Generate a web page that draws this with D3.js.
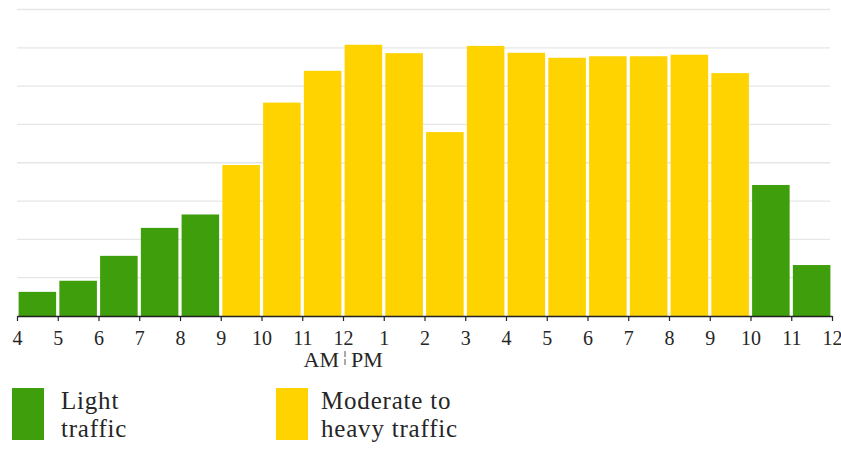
<!DOCTYPE html>
<html>
<head>
<meta charset="utf-8">
<script src="https://cdn.jsdelivr.net/npm/d3@7"></script>
<style>
  html, body { margin: 0; padding: 0; background: #fff; }
  svg { display: block; }
  text { font-family: "Liberation Serif", "Times New Roman", serif; fill: #262626; }
</style>
</head>
<body>
<svg id="chart" width="841" height="449"></svg>
<script>
// ---- data ----
const hourLabels = ["4","5","6","7","8","9","10","11","12","1","2","3","4","5","6","7","8","9","10","11","12"];
const trafficValues = [0.63, 0.92, 1.57, 2.30, 2.65, 3.94, 5.57, 6.40, 7.08, 6.86, 4.80, 7.05, 6.87, 6.74, 6.78, 6.78, 6.82, 6.34, 3.42, 1.33];
const trafficLevel = ["light","light","light","light","light","moderate","moderate","moderate","moderate","moderate","moderate","moderate","moderate","moderate","moderate","moderate","moderate","moderate","light","light"];
const gridValues = [1, 2, 3, 4, 5, 6, 7, 8];
const legendItems = [
  { key: "light", lines: ["Light", "traffic"] },
  { key: "moderate", lines: ["Moderate to", "heavy traffic"] }
];
const colors = { light: "#3f9e0b", moderate: "#fed300" };

// ---- scales ----
const svg = d3.select("#chart");
const x = d3.scaleLinear().domain([0, 20]).range([17, 832]);
const y = d3.scaleLinear().domain([0, 8]).range([316, 9.5]);

// gridlines
svg.append("g").selectAll("line").data(gridValues).join("line")
  .attr("x1", 17).attr("x2", 830)
  .attr("y1", d => y(d)).attr("y2", d => y(d))
  .attr("stroke", "#e6e6e6").attr("stroke-width", 1.3);

// bars
const step = x(1) - x(0);
svg.append("g").selectAll("rect").data(trafficValues).join("rect")
  .attr("x", (d, i) => x(i) + 1.6)
  .attr("width", step - 3.2)
  .attr("y", d => y(d))
  .attr("height", d => y(0) - y(d))
  .attr("fill", (d, i) => colors[trafficLevel[i]]);

// axis
const axis = d3.axisBottom(x)
  .tickValues(d3.range(0, 21))
  .tickFormat((d, i) => hourLabels[i])
  .tickSize(5)
  .tickPadding(10)
  .tickSizeOuter(0);
const gAxis = svg.append("g").attr("transform", "translate(0,316)").call(axis);
gAxis.select(".domain").attr("stroke", "#222").attr("stroke-width", 1.4);
gAxis.selectAll(".tick line").attr("stroke", "#222").attr("stroke-width", 1.2);
gAxis.selectAll(".tick text")
  .attr("font-family", "Liberation Serif, serif")
  .attr("font-size", 20)
  .attr("fill", "#262626");

// AM | PM
const noonX = x(8) + 2;
svg.append("text").attr("x", noonX - 6).attr("y", 367).attr("text-anchor", "end")
  .attr("font-size", 22).text("AM");
svg.append("text").attr("x", noonX + 6).attr("y", 367).attr("text-anchor", "start")
  .attr("font-size", 22).text("PM");
svg.append("line").attr("x1", noonX).attr("x2", noonX).attr("y1", 351).attr("y2", 367)
  .attr("stroke", "#555").attr("stroke-width", 1).attr("stroke-dasharray", "6,2");

// legend
const legendX = [12, 276];
const legendTextDx = [49, 45];
const lg = svg.append("g").selectAll("g").data(legendItems).join("g")
  .attr("transform", (d, i) => `translate(${legendX[i]},388)`);
lg.append("rect").attr("width", 32).attr("height", 52)
  .attr("fill", d => colors[d.key]);
lg.each(function(d, i) {
  d.lines.forEach((ln, j) => {
    d3.select(this).append("text")
      .attr("x", legendTextDx[i]).attr("y", 21 + j * 28)
      .attr("font-size", 25).attr("letter-spacing", 0.8)
      .text(ln);
  });
});
</script>
</body>
</html>
